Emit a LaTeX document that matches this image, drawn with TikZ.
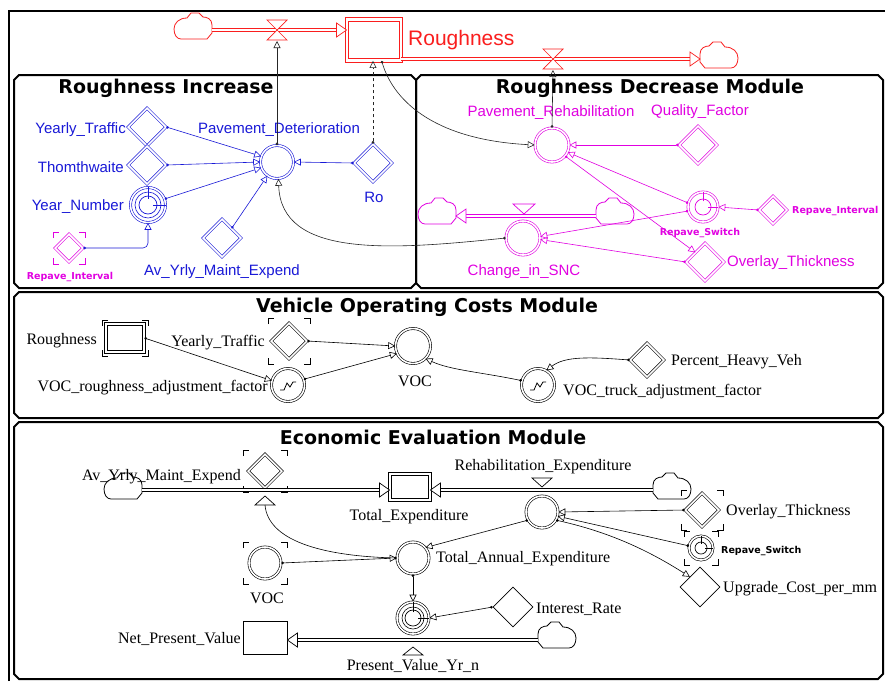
\documentclass[tikz,border=0pt]{standalone}
\usepackage{fontspec}
\setmainfont{Liberation Serif}
\setsansfont{Liberation Sans}
\newfontfamily\hvy{DejaVu Sans}
\usetikzlibrary{shapes.geometric,arrows.meta,calc}
\definecolor{rd}{RGB}{250,30,30}
\definecolor{bl}{RGB}{25,25,215}
\definecolor{mg}{RGB}{225,0,225}
\newcommand\pipeR[3]{\draw[#1,double=white,double distance=2.2pt,line width=0.7pt] #2 -- ($#3+(-9,0)$);
 \draw[#1,fill=white,line width=0.7pt] #3 -- ++(-10,-7) -- ++(0,14) -- cycle;}
\newcommand\pipeL[3]{\draw[#1,double=white,double distance=2.2pt,line width=0.7pt] #2 -- ($#3+(9,0)$);
 \draw[#1,fill=white,line width=0.7pt] #3 -- ++(10,-7) -- ++(0,14) -- cycle;}
\newcommand\valvebt[2]{\draw[#1,fill=white,line width=0.7pt] ($#2+(-10,-10)$) -- ($#2+(10,-10)$) -- ($#2+(-10,10)$) -- ($#2+(10,10)$) -- cycle;}
\newcommand\clockface[3][black]{\draw[#1,line width=0.7pt] (#2) circle (#3pt);
 \draw[#1,line width=0.9pt] ($(#2)+(0,-0.7*#3)$) -- (#2) -- ($(#2)+(0.6*#3,0)$);}
\newcommand\graphicon[1]{\draw[line width=0.8pt] ($(#1)+(-8,5)$) -- ($(#1)+(-4,5)$) -- ($(#1)+(-1,-2)$) -- ($(#1)+(2,2)$) -- ($(#1)+(5,-3)$) -- ($(#1)+(8,-3)$);}
\newcommand\ghost[4][black]{\draw[#1,line width=1pt]
 ($(#2)+(-#3,-#4+6)$) -- ($(#2)+(-#3,-#4)$) -- ($(#2)+(-#3+6,-#4)$)
 ($(#2)+(#3-6,-#4)$) -- ($(#2)+(#3,-#4)$) -- ($(#2)+(#3,-#4+6)$)
 ($(#2)+(-#3,#4-6)$) -- ($(#2)+(-#3,#4)$) -- ($(#2)+(-#3+6,#4)$)
 ($(#2)+(#3-6,#4)$) -- ($(#2)+(#3,#4)$) -- ($(#2)+(#3,#4-6)$);}
\newcommand\modbox[4]{\draw[line width=2pt] (#1+5,#2) -- (#3-5,#2) -- (#3,#2+5) -- (#3,#4-5) -- (#3-5,#4) -- (#1+5,#4) -- (#1,#4-5) -- (#1,#2+5) -- cycle;}
\tikzset{
 stellacloud/.pic={\draw[line width=0.8pt,fill=white] (-12,12) -- (14,12) -- (19,6) -- (19,-2) .. controls (19,-8) and (14,-10) .. (10,-10) -- (6,-14) -- (-2,-14) -- (-6,-9) .. controls (-14,-9) and (-19,-4) .. (-19,2) .. controls (-19,8) and (-16,12) .. (-12,12) -- cycle;},
 sanslab/.style={inner sep=0pt,font=\fontsize{15}{17}\selectfont\sffamily},
 seriflab/.style={inner sep=0pt,font=\fontsize{16}{18}\selectfont\rmfamily},
 tinylab/.style={inner sep=0pt,font=\fontsize{9.5}{11}\selectfont\hvy\bfseries},
 titlelab/.style={inner sep=0pt,font=\fontsize{19}{21}\selectfont\hvy\bfseries},
 convnode/.style={diamond,aspect=1,draw,fill=white,double,double distance=1.6pt,line width=0.6pt,inner sep=0pt},
 auxnode/.style={circle,draw,fill=white,double,double distance=1.6pt,line width=0.6pt,inner sep=0pt},
 stocknode/.style={rectangle,draw,fill=white,double,double distance=2.4pt,line width=0.9pt,inner sep=0pt},
 lnk/.style={line width=0.6pt,{Circle[length=2.6pt]}-{Triangle[open,length=7pt,width=7pt]}},
}
\begin{document}
\begin{tikzpicture}[x=1pt,y=-1pt]
\useasboundingbox (0,0) rectangle (885,681);
\fill[white] (0,0) rectangle (885,681);
% frame and modules
\draw[line width=2.8pt] (9,681) -- (9,11) -- (885,11);
\modbox{14}{75}{416}{288}
\modbox{416}{75}{883}{288}
\modbox{14}{292}{883}{418}
\modbox{14}{422}{883}{679}
\node[titlelab] (t1) at (166,88) {Roughness Increase};
\node[titlelab] (t2) at (650,88) {Roughness Decrease Module};
\node[titlelab] (t3) at (427,307) {Vehicle Operating Costs Module};
\node[titlelab] (t4) at (433,437) {Economic Evaluation Module};

% ---- top red flow ----
\coordinate (c1) at (193,27); \pic[rd] at (c1) {stellacloud};
\coordinate (c1e) at (212,30);
\node[stocknode,draw=rd,minimum width=54pt,minimum height=41pt] (rough) at (374,40) {};
\node[inner sep=0pt,font=\fontsize{21}{23}\selectfont\sffamily,text=rd,anchor=west] (roughl) at (408,40) {Roughness};
\coordinate (v1) at (277,30);
\coordinate (c2) at (719,56); \pic[rd,xscale=-1] at (c2) {stellacloud};
\coordinate (c2w) at (700,59);
\coordinate (v2) at (553,59);
\pipeR{rd}{(c1e)}{(rough.west |- c1e)}
\pipeR{rd}{(rough.east |- c2w)}{(c2w)}
\valvebt{rd}{(v1)}
\valvebt{rd}{(v2)}

% ---- Roughness Increase ----
\node[convnode,draw=bl,minimum size=38pt] (yt) at (147,127) {};
\node[sanslab,text=bl,anchor=east] (ytl) at (126,130) {Yearly\_Traffic};
\node[convnode,draw=bl,minimum size=38pt] (tw) at (147,165) {};
\node[sanslab,text=bl,anchor=east] (twl) at (124,167) {Thomthwaite};
\node[auxnode,draw=bl,minimum size=35pt] (yn) at (148,205) {};
\draw[bl,line width=0.6pt] (yn) circle (13pt);
\clockface[bl]{yn}{9}
\node[sanslab,text=bl,anchor=east] (ynl) at (124,207) {Year\_Number};
\node[convnode,draw=mg,minimum size=28pt] (rint) at (69,248) {};
\ghost[mg]{rint}{16}{16}
\node[tinylab,text=mg] (rintl) at (70,277) {Repave\_Interval};
\node[convnode,draw=bl,minimum size=38pt] (avy) at (222,238) {};
\node[sanslab,text=bl] (avyl) at (222,272) {Av\_Yrly\_Maint\_Expend};
\node[auxnode,draw=bl,minimum size=33pt] (pd) at (277,162) {};
\node[sanslab,text=bl] (pdl) at (279,130) {Pavement\_Deterioration};
\node[convnode,draw=bl,minimum size=38pt] (ro) at (373,163) {};
\node[sanslab,text=bl] (rol) at (374,197) {Ro};
\draw[lnk,bl] (yt.east) -- (pd.160);
\draw[lnk,bl] (tw.east) -- (pd.180);
\draw[lnk,bl] (yn.20) -- (pd.200);
\draw[lnk,bl] (avy.north east) -- (pd.235);
\draw[lnk,bl,rounded corners=5pt] (rint.east) -| (yn.south);
\draw[lnk,bl] (ro.west) -- (pd.east);

% ---- Roughness Decrease ----
\node[auxnode,draw=mg,minimum size=34pt] (pr) at (552,145) {};
\node[sanslab,text=mg] (prl) at (551,113) {Pavement\_Rehabilitation};
\node[convnode,draw=mg,minimum size=38pt] (qf) at (698,145) {};
\node[sanslab,text=mg] (qfl) at (700,112) {Quality\_Factor};
\node[auxnode,draw=mg,minimum size=30pt] (rsw) at (703,207) {};
\clockface[mg]{rsw}{8}
\node[tinylab,text=mg] (rswl) at (700,233) {Repave\_Switch};
\node[convnode,draw=mg,minimum size=28pt] (ri2) at (773,210) {};
\node[tinylab,text=mg,anchor=west] (ri2l) at (792,211) {Repave\_Interval};
\node[convnode,draw=mg,minimum size=38pt] (ot) at (705,262) {};
\node[sanslab,text=mg,anchor=west] (otl) at (727,263) {Overlay\_Thickness};
\node[auxnode,draw=mg,minimum size=34pt] (cs) at (523,238) {};
\node[sanslab,text=mg] (csl) at (524,272) {Change\_in\_SNC};
\coordinate (c3) at (437,212); \pic[mg] at (c3) {stellacloud};
\coordinate (c3e) at (456,216);
\coordinate (c4) at (615,212); \pic[mg,xscale=-1] at (c4) {stellacloud};
\coordinate (c4w) at (596,216);
\pipeL{mg}{(c4w)}{(c3e)}
\coordinate (v3) at (524,209);
\draw[mg,fill=white,line width=0.7pt] ($(v3)+(-11,-5)$) -- ($(v3)+(11,-5)$) -- ($(v3)+(0,5)$) -- cycle;
\draw[lnk,mg] (qf.west) -- (pr.east);
\draw[lnk,mg] (rsw.165) -- (pr.-25);
\draw[lnk,mg] (pr.-40) -- (ot.north west);
\draw[lnk,mg] (ri2.west) -- (rsw.east);
\draw[lnk,mg] (rsw.195) -- (cs.5);
\draw[lnk,mg] (ot.west) -- (cs.-5);

% ---- black cross links ----
\draw[lnk,black!85] (pd.north) -- ($(v1)+(0,11)$);
\draw[lnk,black!85,dashed] (ro.north) -- (ro.north |- rough.south);
\draw[lnk,black!85] (rough.-70) .. controls (395,105) and (440,140) .. (pr.west);
\draw[lnk,black!85] (cs.west) .. controls (390,250) and (281,258) .. (pd.-85);
\draw[lnk,black!85] (pr.north) -- ($(v2)+(0,11)$);

% ---- Vehicle Operating Costs ----
\node[stocknode,minimum width=38pt,minimum height=28pt] (rg) at (125,338) {};
\ghost{rg}{23}{18}
\node[seriflab,anchor=east] (rgl) at (97,341) {Roughness};
\node[convnode,minimum size=36pt] (ytv) at (289,341) {};
\ghost{ytv}{21}{23}
\node[seriflab,anchor=east] (ytvl) at (265,343) {Yearly\_Traffic};
\node[auxnode,minimum size=35pt] (voc) at (413,346) {};
\node[seriflab] (vocl) at (415,381) {VOC};
\node[auxnode,minimum size=33pt] (vr) at (288,385) {};
\graphicon{vr}
\node[seriflab,anchor=east] (vrl) at (268,388) {VOC\_roughness\_adjustment\_factor};
\node[auxnode,minimum size=33pt] (vt) at (538,385) {};
\graphicon{vt}
\node[seriflab,anchor=west] (vtl) at (563,392) {VOC\_truck\_adjustment\_factor};
\node[convnode,minimum size=34pt] (phv) at (647,360) {};
\node[seriflab,anchor=west] (phvl) at (671,362) {Percent\_Heavy\_Veh};
\draw[lnk] (rg.east) -- (vr.165);
\draw[lnk] (ytv.east) -- (voc.180);
\draw[lnk] (vr.20) -- (voc.205);
\draw[lnk] (vt.165) .. controls (480,372) and (450,370) .. (voc.-45);
\draw[lnk] (phv.west) .. controls (590,357) and (565,356) .. (vt.60);

% ---- Economic Evaluation ----
\coordinate (c5) at (123,487); \pic at (c5) {stellacloud};
\coordinate (c5e) at (142,490);
\node[convnode,minimum size=34pt] (avv) at (265,471) {};
\ghost{avv}{22}{21}
\node[seriflab,anchor=east] (avvl) at (241,477) {Av\_Yrly\_Maint\_Expend};
\node[stocknode,minimum width=40pt,minimum height=26pt] (te) at (410,487) {};
\node[seriflab] (tel) at (409,517) {Total\_Expenditure};
\coordinate (c6) at (672,487); \pic[xscale=-1] at (c6) {stellacloud};
\coordinate (c6w) at (653,490);
\pipeR{black}{(c5e)}{(te.west |- c5e)}
\pipeL{black}{(c6w)}{(te.east |- c6w)}
\coordinate (avt) at (265,500);
\draw[fill=white,line width=0.7pt] ($(avt)+(-10,5)$) -- ($(avt)+(10,5)$) -- ($(avt)+(0,-4)$) -- cycle;
\coordinate (rvt) at (542,482);
\draw[fill=white,line width=0.7pt] ($(rvt)+(-10,-4)$) -- ($(rvt)+(10,-4)$) -- ($(rvt)+(0,5)$) -- cycle;
\node[auxnode,minimum size=32pt] (re) at (542,512) {};
\node[seriflab] (rel) at (543,467) {Rehabilitation\_Expenditure};
\node[convnode,minimum size=34pt] (otg) at (702,510) {};
\ghost{otg}{21}{20}
\node[seriflab,anchor=west] (otgl) at (726,512) {Overlay\_Thickness};
\node[auxnode,minimum size=24pt] (rsg) at (701,548) {};
\clockface{rsg}{6}
\ghost{rsg}{17}{17}
\node[tinylab,anchor=west] (rsgl) at (721,551) {Repave\_Switch};
\node[diamond,aspect=1,draw,fill=white,line width=0.7pt,minimum size=40pt,inner sep=0pt] (upc) at (700,587) {};
\node[seriflab,anchor=west] (upcl) at (723,589) {Upgrade\_Cost\_per\_mm};
\node[auxnode,minimum size=32pt] (tae) at (413,558) {};
\node[seriflab,anchor=west] (tael) at (436,559) {Total\_Annual\_Expenditure};
\node[auxnode,minimum size=32pt] (vocg) at (265,563) {};
\ghost{vocg}{22}{21}
\node[seriflab] (vocgl) at (267,598) {VOC};
\node[auxnode,minimum size=32pt] (pv) at (413,618) {};
\draw[line width=0.6pt] (pv) circle (11pt);
\clockface{pv}{8}
\node[seriflab] (pvl) at (413,666) {Present\_Value\_Yr\_n};
\node[diamond,aspect=1,draw,fill=white,line width=0.7pt,minimum size=40pt,inner sep=0pt] (ir) at (513,607) {};
\node[seriflab,anchor=west] (irl) at (536,609) {Interest\_Rate};
\node[draw,fill=white,line width=0.8pt,minimum width=44pt,minimum height=33pt,inner sep=0pt] (npv) at (265,638) {};
\node[seriflab,anchor=east] (npvl) at (241,639) {Net\_Present\_Value};
\coordinate (c7) at (557,636); \pic[xscale=-1] at (c7) {stellacloud};
\coordinate (c7w) at (538,640);
\pipeL{black}{(c7w)}{(npv.east |- c7w)}
\coordinate (pvt) at (413,651);
\draw[fill=white,line width=0.7pt] ($(pvt)+(-10,4)$) -- ($(pvt)+(10,4)$) -- ($(pvt)+(0,-4)$) -- cycle;
\draw[line width=0.6pt,{Circle[length=2.6pt]}-] (tae.west) .. controls (320,556) and (268,540) .. ($(avt)+(0,5)$);
\draw[lnk] (vocg.east) -- (tae.west);
\draw[lnk] (re.210) -- (tae.40);
\draw[lnk] (otg.west) -- (re.east);
\draw[lnk] (rsg.170) -- (re.-15);
\draw[lnk] (re.-30) .. controls (600,530) and (640,545) .. (upc.north west);
\draw[lnk] (tae.south) -- (pv.north);
\draw[lnk] (ir.west) -- (pv.east);
\end{tikzpicture}
\end{document}
